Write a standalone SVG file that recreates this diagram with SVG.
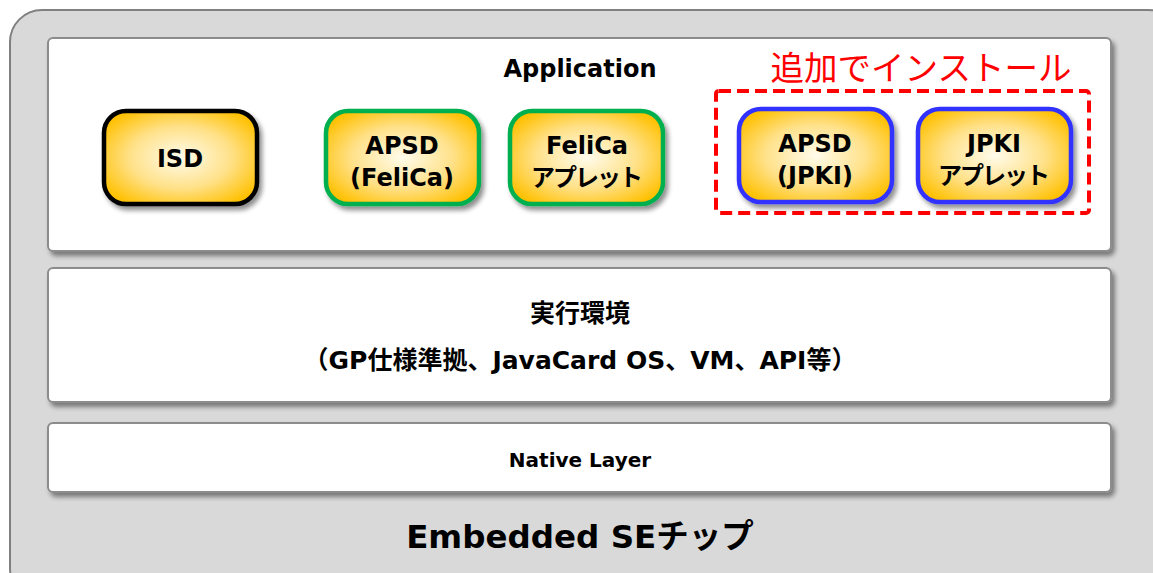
<svg xmlns="http://www.w3.org/2000/svg" width="1153" height="573" viewBox="0 0 1153 573">
<defs>
<radialGradient id="gold" cx="50%" cy="50%" r="60%">
<stop offset="0" stop-color="#fffcec"/>
<stop offset="0.55" stop-color="#ffe189"/>
<stop offset="1" stop-color="#ffc000"/>
</radialGradient>
<filter id="sh" x="-10%" y="-10%" width="125%" height="130%">
<feGaussianBlur in="SourceAlpha" stdDeviation="2.5"/>
<feOffset dx="3" dy="4" result="b"/>
<feComponentTransfer><feFuncA type="linear" slope="0.45"/></feComponentTransfer>
<feMerge><feMergeNode/><feMergeNode in="SourceGraphic"/></feMerge>
</filter>
<style>
text{font-family:"DejaVu Sans","Noto Sans CJK JP",sans-serif;font-weight:bold;fill:#000;text-anchor:middle}
.panel{fill:#fff;stroke:#8c8c8c;stroke-width:2}
.node{fill:url(#gold);stroke-width:4.5}
.nt{font-size:24px}
.kt{font-size:24px;letter-spacing:-2px}
</style>
</defs>
<rect x="10" y="10" width="1170" height="590" rx="32" fill="#d9d9d9" stroke="#808080" stroke-width="2"/>
<g id="application">
<rect class="panel" x="48" y="38" width="1063" height="213" rx="5" filter="url(#sh)"/>
<text x="580" y="77" font-size="24">Application</text>
</g>
<g id="isd">
<rect class="node" x="104" y="111" width="153" height="93" rx="22" stroke="#000" filter="url(#sh)"/>
<text class="nt" x="180" y="167">ISD</text>
</g>
<g id="apsd-felica">
<rect class="node" x="326" y="111" width="153" height="93" rx="22" stroke="#00b050" filter="url(#sh)"/>
<text class="nt" x="402" y="154">APSD</text>
<text class="nt" x="402" y="186">(FeliCa)</text>
</g>
<g id="felica-applet">
<rect class="node" x="510" y="111" width="153" height="93" rx="22" stroke="#00b050" filter="url(#sh)"/>
<text class="nt" x="587" y="154">FeliCa</text>
<text class="kt" x="586" y="186">アプレット</text>
</g>
<g id="install-group">
<rect x="716" y="91" width="373" height="122" rx="3" fill="none" stroke="#ff0000" stroke-width="4" stroke-dasharray="12,6"/>
<text x="921" y="80" font-size="33.5" style="fill:#ff0000;font-weight:normal">追加でインストール</text>
</g>
<g id="apsd-jpki">
<rect class="node" x="739" y="109" width="153" height="93" rx="22" stroke="#3333ff" filter="url(#sh)"/>
<text class="nt" x="815" y="152">APSD</text>
<text class="nt" x="815" y="184">(JPKI)</text>
</g>
<g id="jpki-applet">
<rect class="node" x="918" y="109" width="153" height="93" rx="22" stroke="#3333ff" filter="url(#sh)"/>
<text class="nt" x="994" y="152">JPKI</text>
<text class="kt" x="993" y="184">アプレット</text>
</g>
<g id="runtime">
<rect class="panel" x="48" y="268" width="1063" height="134" rx="5" filter="url(#sh)"/>
<text x="580" y="322" font-size="25">実行環境</text>
<text x="580" y="369" font-size="25">（GP仕様準拠、JavaCard OS、VM、API等）</text>
</g>
<g id="native">
<rect class="panel" x="48" y="423" width="1063" height="69" rx="5" filter="url(#sh)"/>
<text x="580" y="467" font-size="20">Native Layer</text>
</g>
<g id="chip-label">
<text x="580" y="548" font-size="32.5">Embedded SEチップ</text>
</g>
<g id="connectors"></g>
</svg>
